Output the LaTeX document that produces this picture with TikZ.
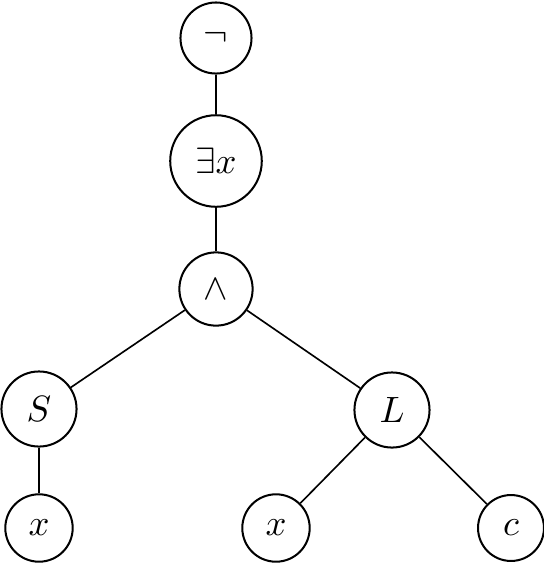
\documentclass[tikz,border=0pt]{standalone}
\begin{document}
\begin{tikzpicture}[x=0.273pt,y=-0.273pt,
  tn/.style={draw,circle,inner sep=0pt,line width=0.55pt},
  edge/.style={line width=0.45pt}]
\useasboundingbox (0,0) rectangle (544,565);
\node[tn,minimum size=19.4pt] (neg) at (216,38) {$\neg$};
\node[tn,minimum size=25pt] (ex) at (216,161) {$\exists x$};
\node[tn,minimum size=20pt] (and) at (216,289) {$\wedge$};
\node[tn,minimum size=20.5pt] (S) at (39,409) {$S$};
\node[tn,minimum size=20.5pt] (L) at (392,410) {$L$};
\node[tn,minimum size=18.4pt] (x1) at (39,528) {$x$};
\node[tn,minimum size=18.4pt] (x2) at (276,528) {$x$};
\node[tn,minimum size=18pt] (c) at (511,528) {$c$};
\draw[edge] (neg) -- (ex);
\draw[edge] (ex) -- (and);
\draw[edge] (and) -- (S);
\draw[edge] (and) -- (L);
\draw[edge] (S) -- (x1);
\draw[edge] (L) -- (x2);
\draw[edge] (L) -- (c);
\end{tikzpicture}
\end{document}
